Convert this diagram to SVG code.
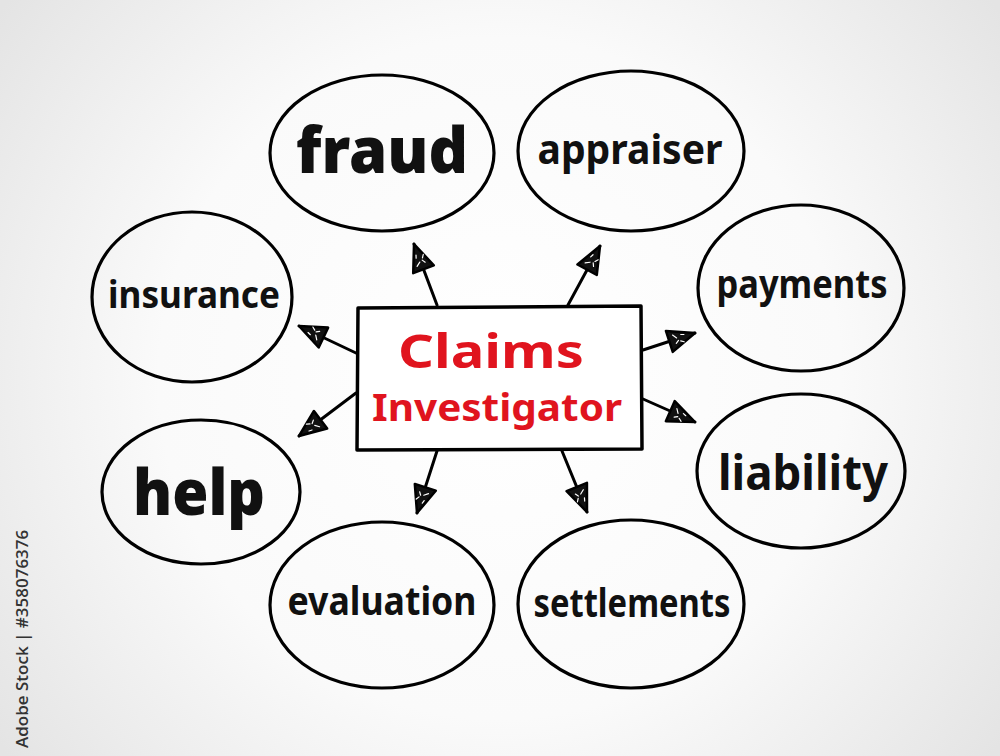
<svg xmlns="http://www.w3.org/2000/svg" width="1000" height="756" viewBox="0 0 1000 756">
<defs>
<radialGradient id="bg" cx="500" cy="378" r="620" gradientUnits="userSpaceOnUse">
<stop offset="0" stop-color="#ffffff"/>
<stop offset="0.55" stop-color="#fafafa"/>
<stop offset="1" stop-color="#e4e4e4"/>
</radialGradient>
<marker id="ah" viewBox="0 0 32 26" refX="30" refY="13" markerWidth="32" markerHeight="26" markerUnits="userSpaceOnUse" orient="auto">
<path d="M30,13 L3,2 L3,24 Z" fill="#111" stroke="#000" stroke-width="2.5" stroke-linejoin="round"/>
<path d="M8,8 L11,12 M14,16 L17,18 M9,17 L12,15 M16,10 L19,11" stroke="#fff" stroke-width="1.2" stroke-linecap="round"/>
</marker>
<style>
.ov{fill:none;stroke:#000;stroke-width:3.2}
.lb{font-family:"Noto Sans","DejaVu Sans",sans-serif;font-weight:700;fill:#111;}
.big{font-family:"Noto Sans","DejaVu Sans",sans-serif;font-weight:900;fill:#111;}
.red{font-family:"Noto Sans","DejaVu Sans",sans-serif;font-weight:700;fill:#e0141e;}
.cn{stroke:#000;stroke-width:3;fill:none;stroke-linecap:round}
</style>
</defs>
<rect x="0" y="0" width="1000" height="756" fill="url(#bg)"/>

<g id="connectors">
<line class="cn" x1="437" y1="305" x2="414" y2="244" marker-end="url(#ah)"/>
<line class="cn" x1="568" y1="305" x2="600" y2="246" marker-end="url(#ah)"/>
<line class="cn" x1="356" y1="353" x2="299" y2="326" marker-end="url(#ah)"/>
<line class="cn" x1="356" y1="393" x2="299" y2="436" marker-end="url(#ah)"/>
<line class="cn" x1="643" y1="350" x2="695" y2="333" marker-end="url(#ah)"/>
<line class="cn" x1="643" y1="399" x2="695" y2="422" marker-end="url(#ah)"/>
<line class="cn" x1="437" y1="451" x2="417" y2="513" marker-end="url(#ah)"/>
<line class="cn" x1="562" y1="451" x2="587" y2="512" marker-end="url(#ah)"/>
</g>

<g id="center">
<path d="M358,308 L641,306 L642,449 L357,450 Z" fill="#fff" stroke="#000" stroke-width="3.5" stroke-linejoin="round"/>
<text class="red" x="491" y="368" font-size="46" text-anchor="middle" textLength="186" lengthAdjust="spacingAndGlyphs">Claims</text>
<text class="red" x="497" y="421" font-size="37" text-anchor="middle" textLength="250" lengthAdjust="spacingAndGlyphs">Investigator</text>
</g>

<g id="fraud">
<ellipse class="ov" cx="382" cy="153" rx="112" ry="78"/>
<text class="big" x="382" y="173" font-size="64" text-anchor="middle" textLength="172" lengthAdjust="spacingAndGlyphs">fraud</text>
</g>
<g id="appraiser">
<ellipse class="ov" cx="631" cy="151" rx="113" ry="80"/>
<text class="lb" x="630" y="164" font-size="42" text-anchor="middle" textLength="185" lengthAdjust="spacingAndGlyphs">appraiser</text>
</g>
<g id="insurance">
<ellipse class="ov" cx="192" cy="297" rx="100" ry="85"/>
<text class="lb" x="194" y="308" font-size="38" text-anchor="middle" textLength="172" lengthAdjust="spacingAndGlyphs">insurance</text>
</g>
<g id="payments">
<ellipse class="ov" cx="801" cy="288" rx="103" ry="83"/>
<text class="lb" x="802" y="298" font-size="40" text-anchor="middle" textLength="171" lengthAdjust="spacingAndGlyphs">payments</text>
</g>
<g id="help">
<ellipse class="ov" cx="201" cy="492" rx="99" ry="72"/>
<text class="big" x="199" y="515" font-size="64" text-anchor="middle" textLength="132" lengthAdjust="spacingAndGlyphs">help</text>
</g>
<g id="liability">
<ellipse class="ov" cx="801" cy="471" rx="104" ry="77"/>
<text class="lb" x="803" y="490" font-size="48" text-anchor="middle" textLength="170" lengthAdjust="spacingAndGlyphs">liability</text>
</g>
<g id="evaluation">
<ellipse class="ov" cx="382" cy="605" rx="112" ry="83"/>
<text class="lb" x="382" y="615" font-size="40" text-anchor="middle" textLength="189" lengthAdjust="spacingAndGlyphs">evaluation</text>
</g>
<g id="settlements">
<ellipse class="ov" cx="631" cy="604" rx="113" ry="84"/>
<text class="lb" x="632" y="617" font-size="40" text-anchor="middle" textLength="197" lengthAdjust="spacingAndGlyphs">settlements</text>
</g>

<text x="28" y="748" transform="rotate(-90 28 748)" font-family="Open Sans, Noto Sans, sans-serif" font-size="17" font-weight="600" fill="#333">Adobe Stock | #358076376</text>
</svg>
